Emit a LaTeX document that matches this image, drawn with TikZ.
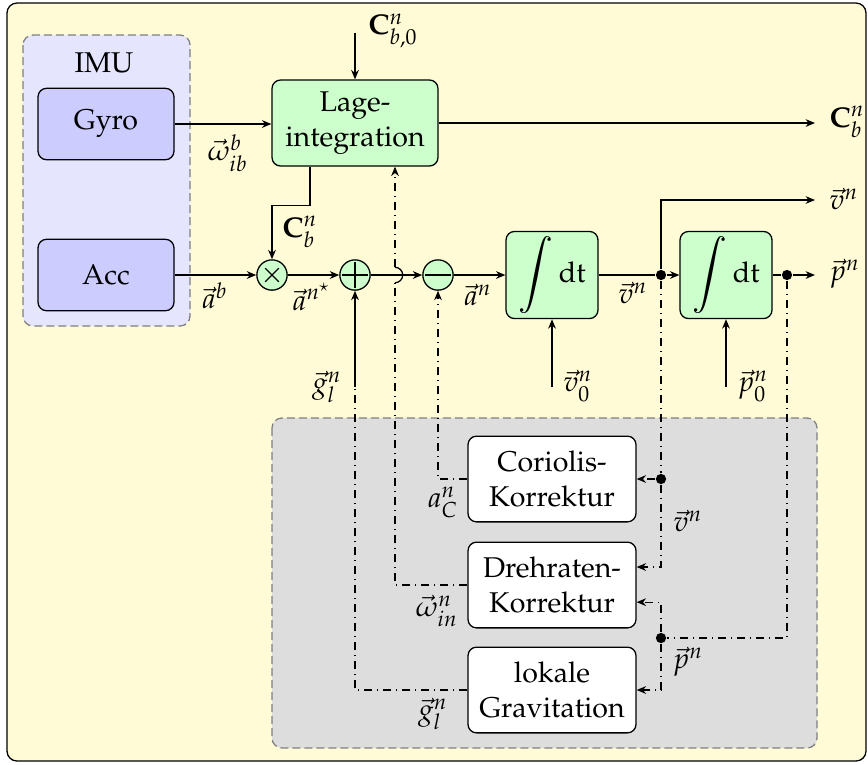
\documentclass[tikz,border=0pt]{standalone}
\usepackage[T1]{fontenc}
\usepackage{mathpazo}
\usetikzlibrary{arrows.meta,calc}

\definecolor{bgyellow}{RGB}{255,251,214}
\definecolor{imublue}{RGB}{229,229,253}
\definecolor{sensorblue}{RGB}{204,204,255}
\definecolor{procgreen}{RGB}{204,255,204}
\definecolor{corrgray}{RGB}{221,221,221}

\newcommand{\intdt}{$\vcenter{\hbox{\scalebox{1.35}{$\displaystyle\int$}}}\,\mathrm{dt}$}

\begin{document}
\begin{tikzpicture}[x=0.35pt,y=-0.35pt,
  line width=0.45pt,
  arr/.style={-{Stealth[length=3.3pt,width=2.7pt]}},
  dd/.style={dash pattern=on 3pt off 1.6pt on 0.45pt off 1.6pt},
  grp/.style={draw=gray, dash pattern=on 2.8pt off 1.4pt, rounded corners=3.5pt},
  blk/.style={draw, rounded corners=3pt, align=center, inner sep=1pt},
  sensor/.style={blk, fill=sensorblue, minimum width=47.6pt, minimum height=25pt},
  proc/.style={blk, fill=procgreen},
  corr/.style={blk, fill=white, minimum width=58.8pt, minimum height=30pt},
  junc/.style={circle, draw, fill=procgreen, minimum size=10.6pt, inner sep=0pt},
  tap/.style={circle, fill, inner sep=0pt, minimum size=3.6pt},
  lbl/.style={inner sep=1pt},
]
\useasboundingbox (0,0) rectangle (868,764);

% frame and groups
\draw[fill=bgyellow, rounded corners=3.5pt] (7,3) rectangle (866,761);
\path[grp, fill=imublue] (23,35) rectangle (190,326);
\path[grp, fill=corrgray] (272,418) rectangle (817,748);

% blocks
\node[lbl] (imu) at (104,63) {IMU};
\node[sensor] (gyro) at (106,124) {Gyro};
\node[sensor] (acc) at (106,275) {Acc};
\node[proc, minimum width=58.1pt, minimum height=30.1pt] (lage) at (355,123) {Lage-\\integration};
\node[proc, minimum width=32.2pt, minimum height=30.5pt] (int1) at (552,275) {\intdt};
\node[proc, minimum width=32.2pt, minimum height=30.5pt] (int2) at (726,275) {\intdt};
\node[corr] (cor) at (552,479) {Coriolis-\\Korrektur};
\node[corr] (dreh) at (552,585) {Drehraten-\\Korrektur};
\node[corr] (grav) at (552,690) {lokale\\Gravitation};

% summing / multiplying junctions
\node[junc, path picture={
  \draw ($(path picture bounding box.center)!0.45!(path picture bounding box.north west)$) --
        ($(path picture bounding box.center)!0.45!(path picture bounding box.south east)$)
        ($(path picture bounding box.center)!0.45!(path picture bounding box.north east)$) --
        ($(path picture bounding box.center)!0.45!(path picture bounding box.south west)$);}]
  (mult) at (272,275) {};
\node[junc, path picture={
  \draw ($(path picture bounding box.center)!0.85!(path picture bounding box.west)$) --
        ($(path picture bounding box.center)!0.85!(path picture bounding box.east)$)
        ($(path picture bounding box.center)!0.85!(path picture bounding box.north)$) --
        ($(path picture bounding box.center)!0.85!(path picture bounding box.south)$);}]
  (plus) at (355,275) {};
\node[junc, path picture={
  \draw ($(path picture bounding box.center)!0.85!(path picture bounding box.west)$) --
        ($(path picture bounding box.center)!0.85!(path picture bounding box.east)$);}]
  (minus) at (438,275) {};

% branch points
\node[tap] (tv) at (661,275) {};
\node[tap] (tp) at (787,275) {};
\node[tap] (tvc) at (661,479) {};
\node[tap] (tpc) at (661,638) {};

% free ends
\coordinate (cbin) at (355,33);
\coordinate (outC) at (815,123);
\coordinate (outV) at (815,200);
\coordinate (outP) at (815,275);
\coordinate (vin) at (552,387);
\coordinate (pin) at (726,387);
\coordinate (gin) at (355,387);
\coordinate (jmp) at (395,275);

% main signal path
\draw[arr] (cbin) -- (lage.north);
\draw[arr] (gyro.east) -- (gyro.east -| lage.west);
\draw[arr] (lage.east) -- (outC);
\draw[arr] ([xshift=-15.75pt]lage.south) -- ++(0,39) -| (mult.north);
\draw[arr] (acc) -- (mult);
\draw[arr] (mult) -- (plus);
\draw[arr] (plus) -- (minus);
\draw[arr] (minus) -- (int1);
\draw (int1) -- (tv);
\draw[arr] (tv) -- (int2);
\draw (int2) -- (tp);
\draw[arr] (tp) -- (outP);
\draw[arr] (tv) |- (outV);
\draw[arr] (vin) -- (int1.south);
\draw[arr] (pin) -- (int2.south);
\draw[arr] (gin) -- (plus.south);

% correction feedback
\draw[dd] (grav.west) -| (gin);
\draw[dd, arr] (cor.west) -| (minus.south);
\draw[dd] (dreh.west) -| ([yshift=-2.7pt]jmp);
\draw ([yshift=-2.7pt]jmp) arc[start angle=-90, end angle=90, radius=2.7pt];
\draw[dd, arr] ([yshift=2.7pt]jmp) -- (jmp |- lage.south);
\draw[dd] (tv) -- (tvc);
\draw[dd, arr] (tvc) -- (tvc -| cor.east);
\draw[dd, arr] (tvc) |- ([yshift=6.3pt]dreh.east);
\draw[dd] (tp) |- (tpc);
\draw[dd, arr] (tpc) |- ([yshift=-6pt]dreh.east);
\draw[dd, arr] (tpc) |- (grav.east);

% signal labels
\node[lbl] (lcb0) at (393,31) {$\mathbf{C}^{n}_{b,0}$};
\node[lbl] (lwib) at (228,153) {$\vec{\omega}^{b}_{ib}$};
\node[lbl] (lab) at (215,296) {$\vec{a}^{b}$};
\node[lbl] (lcbm) at (300,232) {$\mathbf{C}^{n}_{b}$};
\node[lbl] (lans) at (312,297) {$\vec{a}^{n^\star}$};
\node[lbl] (lan) at (478,295) {$\vec{a}^{n}$};
\node[lbl] (lvn) at (633,293) {$\vec{v}^{n}$};
\node[lbl] (lv0) at (578,386) {$\vec{v}^{n}_{0}$};
\node[lbl] (lp0) at (753,386) {$\vec{p}^{n}_{0}$};
\node[lbl] (lgu) at (327,387) {$\vec{g}^{n}_{l}$};
\node[lbl, anchor=west] (lcbo) at (826,122) {$\mathbf{C}^{n}_{b}$};
\node[lbl, anchor=west] (lvo) at (826,199) {$\vec{v}^{n}$};
\node[lbl, anchor=west] (lpo) at (826,274) {$\vec{p}^{n}$};
\node[lbl] (lac) at (443,502) {$a^{n}_{C}$};
\node[lbl] (lwin) at (437,611) {$\vec{\omega}^{n}_{in}$};
\node[lbl] (lgl) at (433,714) {$\vec{g}^{n}_{l}$};
\node[lbl] (lvc) at (688,521) {$\vec{v}^{n}$};
\node[lbl] (lpc) at (688,662) {$\vec{p}^{n}$};
\end{tikzpicture}
\end{document}
